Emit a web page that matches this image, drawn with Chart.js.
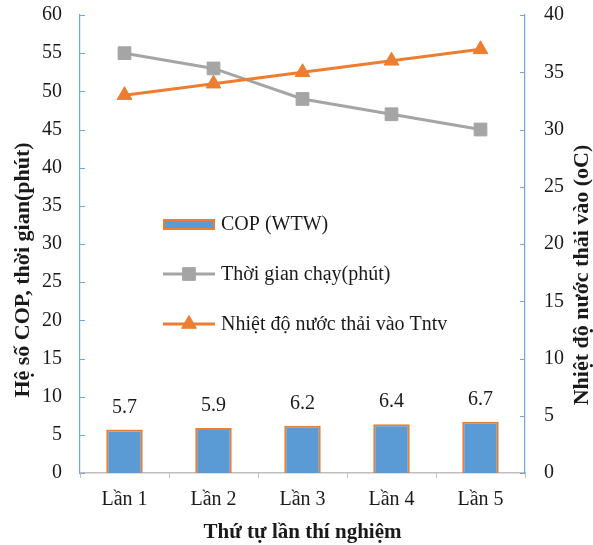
<!DOCTYPE html>
<html>
<head>
<meta charset="utf-8">
<script src="https://cdn.jsdelivr.net/npm/chart.js@4/dist/chart.umd.min.js"></script>
<style>
  html, body { margin: 0; padding: 0; background: #fff; }
  #wrap { width: 593px; height: 545px; }
</style>
</head>
<body>
<div id="wrap"><canvas id="c" width="593" height="545"></canvas></div>
<script>
// Test runs
const categories = ['Lần 1', 'Lần 2', 'Lần 3', 'Lần 4', 'Lần 5'];
// Coefficient of performance per run (left axis)
const copValues = [5.7, 5.9, 6.2, 6.4, 6.7];
// Running time in minutes (left axis)
const runTimes = [55, 53, 49, 47, 45];
// Waste-water inlet temperature, °C (right axis)
const inletTemps = [33, 34, 35, 36, 37];

const leftAxis = { min: 0, max: 60, step: 5 };
const rightAxis = { min: 0, max: 40, step: 5 };

const seriesNames = ['COP (WTW)', 'Thời gian chạy(phút)', 'Nhiệt độ nước thải vào Tntv'];
const titleLeft = 'Hệ số COP, thời gian(phút)';
const titleRight = 'Nhiệt độ nước thải vào (oC)';
const titleBottom = 'Thứ tự lần thí nghiệm';

const BLUE = '#5b9bd5';
const ORANGE = '#ed7d31';
const GRAY = '#a5a5a5';
const AXIS_BLUE = '#6fa6dc';
const TEXT = '#1a1a1a';
const FONT = '"Liberation Serif", "Times New Roman", serif';

// Inward tick marks, bar value labels, rotated axis titles and the in-plot legend
const decorations = {
  id: 'decorations',
  afterDatasetsDraw(chart) {
    const ctx = chart.ctx;
    const area = chart.chartArea;
    const yl = chart.scales.y;
    const yr = chart.scales.y2;
    const x = chart.scales.x;
    ctx.save();

    // tick marks on the value axes, pointing into the plot
    ctx.lineWidth = 1;
    ctx.strokeStyle = AXIS_BLUE;
    yl.ticks.forEach(t => {
      const py = Math.round(yl.getPixelForValue(t.value)) + 0.5;
      ctx.beginPath(); ctx.moveTo(area.left, py); ctx.lineTo(area.left + 5, py); ctx.stroke();
    });
    yr.ticks.forEach(t => {
      const py = Math.round(yr.getPixelForValue(t.value)) + 0.5;
      ctx.beginPath(); ctx.moveTo(area.right - 5, py); ctx.lineTo(area.right, py); ctx.stroke();
    });
    // category boundary ticks below the bottom axis
    ctx.strokeStyle = '#bfbfbf';
    const half = (x.getPixelForValue(1) - x.getPixelForValue(0)) / 2;
    for (let i = 0; i <= categories.length; i++) {
      const px = Math.round(x.getPixelForValue(i) - half) + 0.5;
      ctx.beginPath(); ctx.moveTo(px, area.bottom); ctx.lineTo(px, area.bottom + 5); ctx.stroke();
    }

    // value labels above bars
    ctx.fillStyle = TEXT;
    ctx.font = '20px ' + FONT;
    ctx.textAlign = 'center';
    ctx.textBaseline = 'middle';
    const barMeta = chart.getDatasetMeta(0);
    barMeta.data.forEach((bar, i) => {
      ctx.fillText(String(copValues[i]), bar.x, bar.y - 22);
    });

    // axis titles (both vertical titles read bottom to top)
    ctx.font = 'bold 22px ' + FONT;
    ctx.textBaseline = 'alphabetic';
    ctx.save();
    ctx.translate(29, 270);
    ctx.rotate(-Math.PI / 2);
    ctx.fillText(titleLeft, 0, 0);
    ctx.restore();
    ctx.save();
    ctx.translate(588, 275);
    ctx.rotate(-Math.PI / 2);
    ctx.fillText(titleRight, 0, 0);
    ctx.restore();
    ctx.font = 'bold 21px ' + FONT;
    ctx.fillText(titleBottom, (area.left + area.right) / 2, 538);

    // legend
    ctx.textBaseline = 'middle';
    const lx0 = area.left + 83, lx1 = lx0 + 52, tx = lx1 + 6;
    const rows = [area.top + 209, area.top + 259, area.top + 309];
    ctx.font = '20px ' + FONT;
    ctx.textAlign = 'left';
    // bar swatch
    ctx.fillStyle = BLUE;
    ctx.fillRect(lx0, rows[0] - 5, lx1 - lx0, 11);
    ctx.strokeStyle = ORANGE; ctx.lineWidth = 2;
    ctx.strokeRect(lx0 + 1, rows[0] - 4, lx1 - lx0 - 2, 9);
    // line swatches
    const lineSwatch = (y, color, style) => {
      ctx.strokeStyle = color; ctx.lineWidth = 3;
      ctx.beginPath(); ctx.moveTo(lx0, y); ctx.lineTo(lx1, y); ctx.stroke();
      ctx.fillStyle = color; ctx.lineWidth = 1;
      Chart.helpers.drawPoint(ctx, { pointStyle: style, radius: style === 'rect' ? 9 : 8.5, borderWidth: 1 }, (lx0 + lx1) / 2, y);
    };
    lineSwatch(rows[1], GRAY, 'rect');
    lineSwatch(rows[2], ORANGE, 'triangle');
    ctx.fillStyle = TEXT;
    seriesNames.forEach((n, i) => ctx.fillText(n, tx, rows[i] + 1));

    ctx.restore();
  }
};

// value axes: fixed width, and only a small top margin for the highest tick label
const fitValueAxis = width => s => {
  s.width = width;
  s.paddingTop = 15;
  s.paddingBottom = 0;
};

new Chart(document.getElementById('c'), {
  type: 'bar',
  data: {
    labels: categories,
    datasets: [
      {
        type: 'bar', label: seriesNames[0], data: copValues, yAxisID: 'y',
        backgroundColor: BLUE, borderColor: ORANGE, borderWidth: 2,
        barPercentage: 0.82, categoryPercentage: 0.5, order: 3
      },
      {
        type: 'line', label: seriesNames[1], data: runTimes, yAxisID: 'y',
        borderColor: GRAY, backgroundColor: GRAY, borderWidth: 3,
        pointStyle: 'rect', pointRadius: 9, pointBorderWidth: 1,
        pointBackgroundColor: GRAY, pointBorderColor: GRAY, tension: 0, order: 2
      },
      {
        type: 'line', label: seriesNames[2], data: inletTemps, yAxisID: 'y2',
        borderColor: ORANGE, backgroundColor: ORANGE, borderWidth: 3,
        pointStyle: 'triangle', pointRadius: 8.5, pointBorderWidth: 1,
        pointBackgroundColor: ORANGE, pointBorderColor: ORANGE, tension: 0, order: 1
      }
    ]
  },
  options: {
    responsive: false,
    animation: false,
    devicePixelRatio: 1,
    layout: { padding: 0 },
    plugins: { legend: { display: false }, tooltip: { enabled: false } },
    scales: {
      x: {
        offset: true,
        grid: { display: false, drawTicks: false },
        border: { display: true, color: '#bfbfbf', width: 1.5 },
        ticks: { color: TEXT, font: { family: FONT, size: 20 }, padding: 15, maxRotation: 0 },
        afterFit(s) { s.height = 72; s.paddingLeft = 0; s.paddingRight = 0; }
      },
      y: {
        position: 'left',
        min: leftAxis.min, max: leftAxis.max,
        grid: { display: false, drawTicks: false },
        border: { display: true, color: AXIS_BLUE, width: 1.2 },
        ticks: { stepSize: leftAxis.step, color: TEXT, font: { family: FONT, size: 20 }, padding: 18 },
        afterFit: fitValueAxis(80)
      },
      y2: {
        position: 'right',
        min: rightAxis.min, max: rightAxis.max,
        grid: { display: false, drawTicks: false },
        border: { display: true, color: AXIS_BLUE, width: 1.2 },
        ticks: { stepSize: rightAxis.step, color: TEXT, font: { family: FONT, size: 20 }, padding: 19 },
        afterFit: fitValueAxis(68)
      }
    }
  },
  plugins: [decorations]
});
</script>
</body>
</html>
